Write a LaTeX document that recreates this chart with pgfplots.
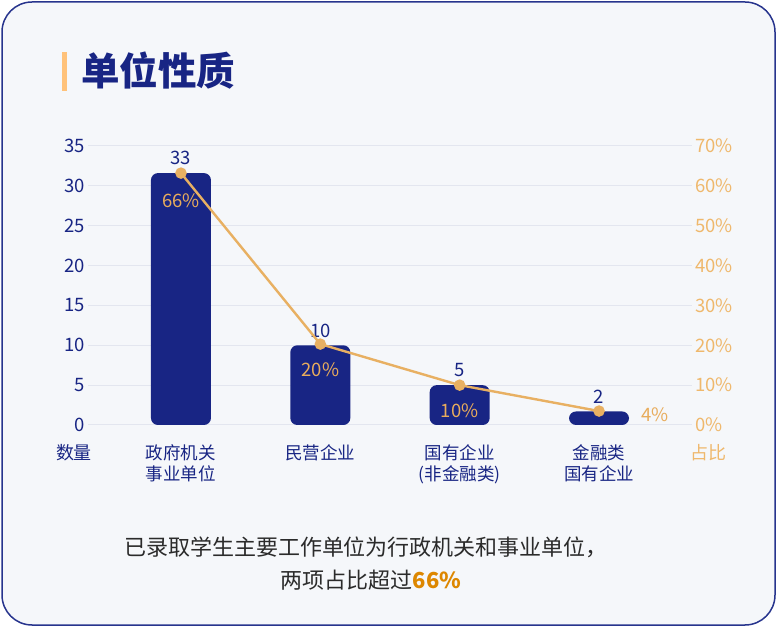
\documentclass[border=0pt]{standalone}
\usepackage{fontspec}
\setmainfont{Noto Sans CJK SC}
\usepackage{pgfplots}
\pgfplotsset{compat=1.18}
\usepackage{pgfplotstable}

\definecolor{navy}{HTML}{182584}
\definecolor{linec}{HTML}{E8B062}
\definecolor{pctc}{HTML}{E8AC5C}
\definecolor{rtick}{HTML}{EFB86C}
\definecolor{gridc}{HTML}{E3E6EF}
\definecolor{bgc}{HTML}{F5F7FA}
\definecolor{framec}{HTML}{27348D}
\definecolor{notec}{HTML}{2B2B2B}
\definecolor{hl}{HTML}{DD8700}
\definecolor{titlebar}{HTML}{FFC27A}

% bar heights as drawn, labels as printed
\pgfplotstableread{
x cnt lab
0 31.6 33
1 10   10
2 5    5
3 1.7  2
}\cnttab

\pgfplotstableread{
x pct
0 63.2
1 20.3
2 10
3 3.5
}\pcttab

\newcommand\lblfont{\fontsize{18.5}{21}\selectfont}

\begin{document}
\begin{tikzpicture}
\path[use as bounding box] (0,0) rectangle (777pt,627pt);
\draw[framec, line width=1.5pt, fill=bgc, rounded corners=30pt] (2pt,2pt) rectangle (775pt,625pt);

% title
\fill[titlebar] (62pt,536pt) rectangle (67pt,575pt);
\node[anchor=west, inner sep=0pt, text=navy] at (81pt,556pt) {\fontsize{38.5}{42}\selectfont\bfseries 单位性质};

\begin{axis}[
    at={(88.3pt,202pt)}, anchor=south west,
    scale only axis,
    width=603.4pt, height=279pt,
    xmin=-0.665, xmax=3.665,
    ymin=0, ymax=35,
    ytick={0,5,...,35},
    xtick=data,
    xticklabels={政府机关\\事业单位, 民营企业, 国有企业\\(非金融类), 金融类\\国有企业},
    ymajorgrids,
    grid style={gridc, line width=1pt},
    axis line style={draw=none},
    major tick style={draw=none},
    /pgf/number format/assume math mode=true,
    yticklabel style={font=\lblfont, text=navy},
    xticklabel style={font=\fontsize{17.5}{21}\selectfont, text=navy, align=center, yshift=-12pt},
    clip=false,
    ybar, bar width=60pt,
    nodes near coords,
    point meta=explicit symbolic,
    nodes near coords style={font=\lblfont, text=navy, yshift=4.5pt},
]
\addplot[fill=navy, draw=none, rounded corners=7pt] table[x=x, y=cnt, meta=lab] {\cnttab};
\end{axis}

\begin{axis}[
    at={(88.3pt,202pt)}, anchor=south west,
    scale only axis,
    width=603.4pt, height=279pt,
    xmin=-0.665, xmax=3.665,
    ymin=0, ymax=70,
    ytick={0,10,...,70},
    xtick=\empty,
    yticklabel pos=right,
    yticklabel={\pgfmathprintnumber{\tick}\%},
    axis line style={draw=none},
    major tick style={draw=none},
    /pgf/number format/assume math mode=true,
    yticklabel style={font=\lblfont, text=rtick},
    clip=false,
]
\addplot[linec, line width=2.4pt, mark=*, mark size=4.5pt, mark options={fill=linec, draw=none}] table[x=x, y=pct] {\pcttab};
\node[text=pctc, font=\lblfont] at (axis cs:0,63.2) [yshift=-28pt] {66\%};
\node[text=pctc, font=\lblfont] at (axis cs:1,20.3) [yshift=-25.5pt] {20\%};
\node[text=pctc, font=\lblfont] at (axis cs:2,10) [yshift=-26pt] {10\%};
\node[text=pctc, font=\lblfont] at (axis cs:3,3.5) [xshift=56pt, yshift=-4pt] {4\%};
\end{axis}

% axis captions
\node[text=navy, font=\fontsize{18}{21}\selectfont] at (74pt,174pt) {数量};
\node[text=rtick, font=\fontsize{18}{21}\selectfont] at (708pt,174pt) {占比};

% note
\node[text=notec, font=\fontsize{22}{26}\selectfont] at (366pt,80pt) {已录取学生主要工作单位为行政机关和事业单位，};
\node[text=notec, font=\fontsize{22}{26}\selectfont] at (371pt,47pt) {两项占比超过\textcolor{hl}{\bfseries 66\%}};
\end{tikzpicture}
\end{document}
